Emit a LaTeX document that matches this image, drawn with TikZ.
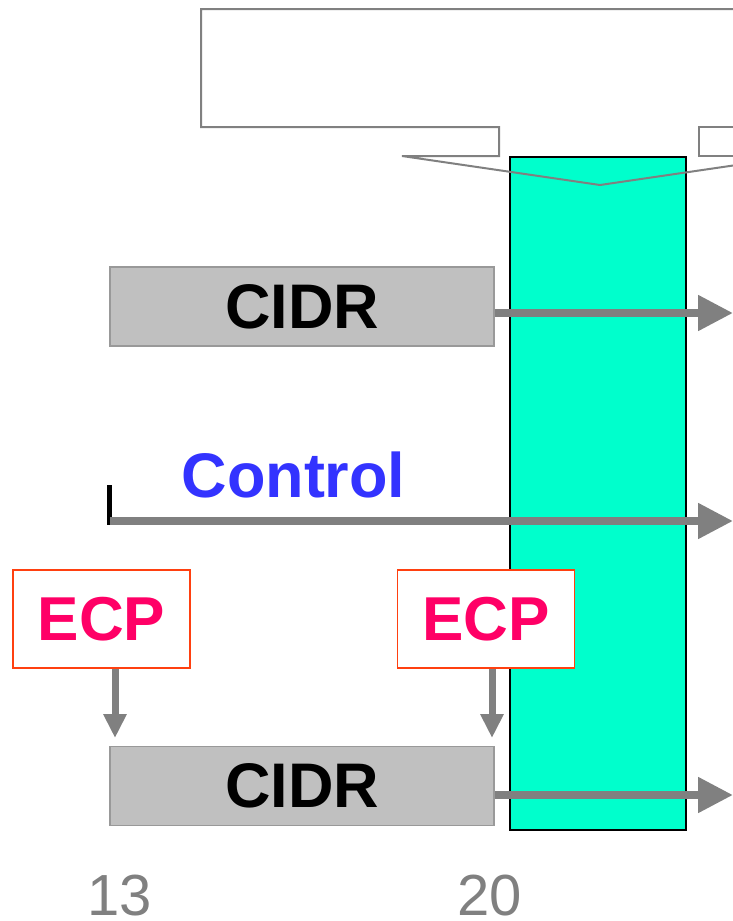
\documentclass[tikz,border=0pt]{standalone}
\usepackage{fontspec}
\setmainfont{Liberation Sans}
\usetikzlibrary{arrows.meta}
\definecolor{cyanfill}{HTML}{00FFCC}
\definecolor{boxgray}{HTML}{C0C0C0}
\definecolor{boxedge}{HTML}{999999}
\definecolor{arrgray}{HTML}{808080}
\definecolor{ecpred}{HTML}{FF0066}
\definecolor{ecpedge}{HTML}{FF4010}
\definecolor{ctrlblue}{HTML}{3333FF}
\tikzset{
  cidrbox/.style={draw=boxedge, fill=boxgray, line width=1.5pt, minimum width=384pt, minimum height=79pt, inner sep=0pt, font=\fontsize{63}{63}\selectfont\bfseries, text=black},
  ecpbox/.style={draw=ecpedge, fill=white, line width=1.5pt, minimum width=177pt, minimum height=98pt, inner sep=0pt, font=\fontsize{62}{62}\selectfont\bfseries, text=ecpred},
  harrow/.style={draw=arrgray, line width=8pt, -{Triangle[length=35pt,width=34pt]}},
  varrow/.style={draw=arrgray, line width=7pt, -{Triangle[length=24pt,width=22pt]}},
  numlabel/.style={font=\fontsize{58}{58}\selectfont, text=arrgray, anchor=base, inner sep=0pt},
}
\begin{document}
\begin{tikzpicture}[x=1pt,y=-1pt]
\useasboundingbox (0,0) rectangle (733,921);
\clip (0,0) rectangle (733,921);
% cyan band
\node[draw=black, fill=cyanfill, line width=2pt, minimum width=176pt, minimum height=673pt, inner sep=0pt] (band) at (598,493.5) {};
% callout
\draw[arrgray, line width=2pt] (800,9) -- (201,9) -- (201,127) -- (499,127) -- (499,156) -- (402,156) -- (600,185) -- (798,156);
\draw[arrgray, line width=2pt] (800,127) -- (699,127) -- (699,156) -- (800,156);
% CIDR boxes
\node[cidrbox] (cidr1) at (302,306.5) {CIDR};
\node[cidrbox] (cidr2) at (302,786) {CIDR};
\coordinate (e1) at (733,313);
\coordinate (e2) at (733,521);
\coordinate (e3) at (733,795);
\draw[harrow] (cidr1.east |- e1) -- (e1);
\draw[harrow] (cidr2.east |- e3) -- (e3);
% control
\node[font=\fontsize{63}{63}\selectfont\bfseries, text=ctrlblue, anchor=base, inner sep=0pt] (ctrl) at (293.5,497) {Control};
\coordinate (t1) at (109,485);
\coordinate (t2) at (109,525);
\draw[black, line width=5pt] (t1) -- (t2);
\coordinate (c0) at (110,521);
\draw[harrow] (c0) -- (e2);
% ECP
\node[ecpbox] (ecp1) at (101.5,619) {ECP};
\node[ecpbox] (ecp2) at (486,619) {ECP};
\coordinate (d1) at (115,738);
\coordinate (d2) at (492,738);
\draw[varrow] (ecp1.south -| d1) -- (d1);
\draw[varrow] (ecp2.south -| d2) -- (d2);
% numbers
\node[numlabel] (n13) at (120,915) {13};
\node[numlabel] (n20) at (490,915) {20};
\end{tikzpicture}
\end{document}
